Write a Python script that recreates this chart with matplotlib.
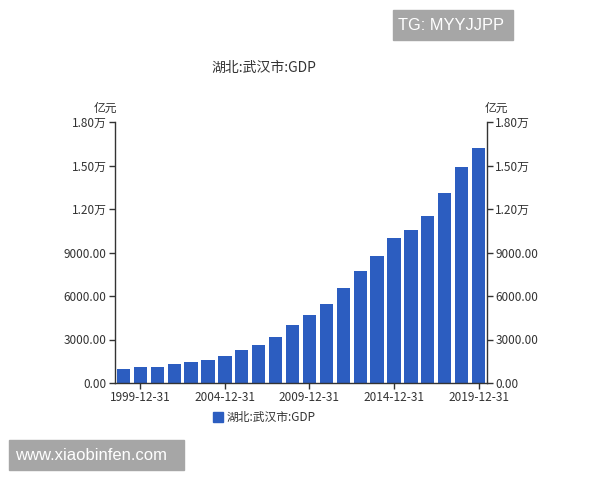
import matplotlib
matplotlib.use("Agg")
import matplotlib.pyplot as plt
from matplotlib.patches import Rectangle

plt.rcParams['font.family'] = ['Noto Sans CJK SC', 'DejaVu Sans']

years = list(range(1998, 2020))
gdp = [990, 1080, 1130, 1310, 1450, 1610, 1860, 2260, 2650, 3180,
       4030, 4720, 5430, 6560, 7730, 8750, 10010, 10540, 11530, 13080,
       14920, 16210]
tick_years = [1999, 2004, 2009, 2014, 2019]
yticks = [0, 3000, 6000, 9000, 12000, 15000, 18000]
ylabels = ['0.00', '3000.00', '6000.00', '9000.00', '1.20万', '1.50万', '1.80万']

bar_color = '#2c5dc0'
text_color = '#333333'

fig = plt.figure(figsize=(6, 4.8), dpi=100)
ax = fig.add_axes([115/600, 1-383/480, 372/600, 261/480])

x = list(range(len(years)))
ax.bar(x, gdp, width=0.78, color=bar_color, zorder=2)
ax.set_xlim(-0.5, len(years) - 0.5)
ax.set_ylim(0, 18000)

ax.set_xticks([years.index(y) for y in tick_years])
ax.set_xticklabels([f'{y}-12-31' for y in tick_years])
ax.set_yticks(yticks)
ax.set_yticklabels(ylabels)

ax2 = ax.twinx()
ax2.set_ylim(0, 18000)
ax2.set_yticks(yticks)
ax2.set_yticklabels(ylabels)

for a in (ax, ax2):
    a.spines['top'].set_visible(False)
    for s in a.spines.values():
        s.set_color('#333333')
        s.set_linewidth(1)
    a.tick_params(colors=text_color, labelsize=8.5, length=4, width=1, pad=2)
ax.spines['right'].set_visible(False)
ax2.spines['left'].set_visible(False)
ax2.spines['bottom'].set_visible(False)

fig.text(0.195, 1-108/480, '亿元', ha='right', va='center', fontsize=8.5, color=text_color)
fig.text(0.807, 1-108/480, '亿元', ha='left', va='center', fontsize=8.5, color=text_color)

fig.text(264/600, 1-68/480, '湖北:武汉市:GDP', ha='center', va='center', fontsize=10, color=text_color)

# legend
fig.patches.append(Rectangle((213/600, 1-422/480), 10/600, 10/480, transform=fig.transFigure,
                             color=bar_color, figure=fig))
fig.text(227/600, 1-417/480, '湖北:武汉市:GDP', ha='left', va='center', fontsize=8.5, color=text_color)

# gray label boxes
fig.patches.append(Rectangle((393/600, 1-40/480), 120/600, 30/480, transform=fig.transFigure,
                             color='#a6a6a6', figure=fig))
fig.text(451/600, 1-25/480, 'TG: MYYJJPP', ha='center', va='center', fontsize=11.8, color='white',
         family='Liberation Sans')
fig.patches.append(Rectangle((9/600, 1-470/480), 175/600, 30/480, transform=fig.transFigure,
                             color='#a6a6a6', figure=fig))
fig.text(91/600, 1-455/480, 'www.xiaobinfen.com', ha='center', va='center', fontsize=12, color='white',
         family='Liberation Sans')

fig.savefig('out.png', dpi=100, facecolor='white')
